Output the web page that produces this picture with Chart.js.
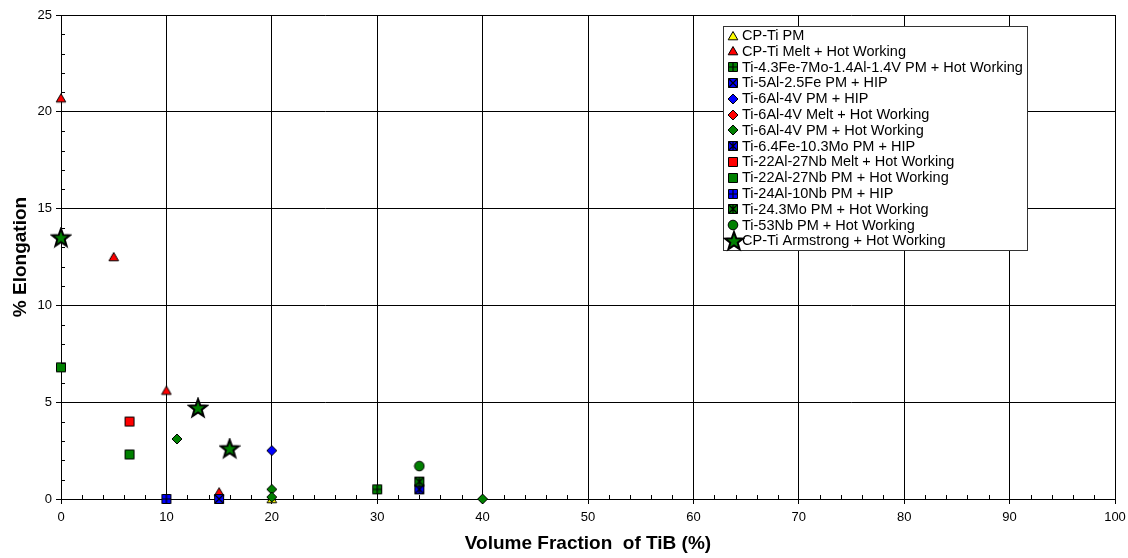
<!DOCTYPE html>
<html>
<head>
<meta charset="utf-8">
<script src="https://cdn.jsdelivr.net/npm/chart.js@4/dist/chart.umd.min.js"></script>
<style>
  html, body { margin: 0; padding: 0; background: #fff; }
  #wrap { width: 1128px; height: 558px; }
</style>
</head>
<body>
<div id="wrap"><canvas id="c" width="1128" height="558"></canvas></div>
<script>
// Elongation (%) against TiB volume fraction (%), one [x, y] list per alloy / process route
const cpTiPM            = [[20, 0]];
const cpTiMeltHW        = [[0, 20.7], [5, 12.5], [10, 5.6], [15, 0.35]];
const ti43Fe7MoPMHW     = [[30, 0.5]];
const ti5Al25FePMHIP    = [[15, 0]];
const ti6Al4VPMHIP      = [[20, 2.5]];
const ti6Al4VMeltHW     = [];
const ti6Al4VPMHW       = [[11, 3.1], [20, 0.5], [20, 0.1], [40, 0]];
const ti64Fe103MoPMHIP  = [[34, 0.5]];
const ti22Al27NbMeltHW  = [[6.5, 4.0]];
const ti22Al27NbPMHW    = [[0, 6.8], [6.5, 2.3]];
const ti24Al10NbPMHIP   = [[10, 0]];
const ti243MoPMHW       = [[34, 0.9]];
const ti53NbPMHW        = [[34, 1.7]];
const cpTiArmstrongHW   = [[0, 13.5], [13, 4.7], [16, 2.6]];

const seriesNames = [
  'CP-Ti PM',
  'CP-Ti Melt + Hot Working',
  'Ti-4.3Fe-7Mo-1.4Al-1.4V PM + Hot Working',
  'Ti-5Al-2.5Fe PM + HIP',
  'Ti-6Al-4V PM + HIP',
  'Ti-6Al-4V Melt + Hot Working',
  'Ti-6Al-4V PM + Hot Working',
  'Ti-6.4Fe-10.3Mo PM + HIP',
  'Ti-22Al-27Nb Melt + Hot Working',
  'Ti-22Al-27Nb PM + Hot Working',
  'Ti-24Al-10Nb PM + HIP',
  'Ti-24.3Mo PM + Hot Working',
  'Ti-53Nb PM + Hot Working',
  'CP-Ti Armstrong + Hot Working'
];
const seriesData = [
  cpTiPM, cpTiMeltHW, ti43Fe7MoPMHW, ti5Al25FePMHIP, ti6Al4VPMHIP, ti6Al4VMeltHW,
  ti6Al4VPMHW, ti64Fe103MoPMHIP, ti22Al27NbMeltHW, ti22Al27NbPMHW, ti24Al10NbPMHIP,
  ti243MoPMHW, ti53NbPMHW, cpTiArmstrongHW
];

const xTicks = [0, 10, 20, 30, 40, 50, 60, 70, 80, 90, 100];
const yTicks = [0, 5, 10, 15, 20, 25];

const RED = '#FF0000', GREEN = '#008000', BLUE = '#0000FF', YELLOW = '#FFFF00';
const FONT = 'Arial, "Liberation Sans", sans-serif';

// Marker glyphs: shape, fill, and an optional black overlay ('plus', 'x', 'asterisk')
const markerSpecs = [
  ['triangle', YELLOW, null],
  ['triangle', RED, null],
  ['square', GREEN, 'plus'],
  ['square', BLUE, 'x'],
  ['diamond', BLUE, null],
  ['diamond', RED, null],
  ['diamond', GREEN, null],
  ['square', BLUE, 'asterisk'],
  ['square', RED, null],
  ['square', GREEN, null],
  ['square', BLUE, 'plus'],
  ['square', GREEN, 'asterisk'],
  ['circle', GREEN, null],
  ['star', GREEN, null]
];

function makeMarker(kind, fill, overlay) {
  const s = kind === 'star' ? 22 : 12;
  const c = document.createElement('canvas');
  c.width = s; c.height = s;
  const g = c.getContext('2d');
  const m = s / 2;
  g.fillStyle = fill;
  g.strokeStyle = '#000';
  g.lineWidth = 1;
  g.beginPath();
  if (kind === 'triangle') {
    g.moveTo(m, m - 4.5); g.lineTo(m + 4.8, m + 3.8); g.lineTo(m - 4.8, m + 3.8); g.closePath();
  } else if (kind === 'square') {
    g.rect(m - 4.5, m - 4.5, 9, 9);
  } else if (kind === 'diamond') {
    g.moveTo(m, m - 5); g.lineTo(m + 5, m); g.lineTo(m, m + 5); g.lineTo(m - 5, m); g.closePath();
  } else if (kind === 'circle') {
    g.arc(m, m, 4.8, 0, Math.PI * 2);
  } else if (kind === 'star') {
    const R = 9.5, r = 3.9;
    for (let i = 0; i < 10; i++) {
      const a = -Math.PI / 2 + i * Math.PI / 5;
      const rad = i % 2 === 0 ? R : r;
      const px = m + rad * Math.cos(a), py = m + 0.5 + rad * Math.sin(a);
      if (i === 0) g.moveTo(px, py); else g.lineTo(px, py);
    }
    g.closePath();
    g.lineWidth = 2;
  }
  g.fill();
  g.stroke();
  if (overlay) {
    g.lineWidth = 1.2;
    g.beginPath();
    if (overlay === 'plus' || overlay === 'asterisk') {
      if (overlay === 'plus') { g.moveTo(m - 4.5, m); g.lineTo(m + 4.5, m); }
      g.moveTo(m, m - 4.5); g.lineTo(m, m + 4.5);
    }
    if (overlay === 'x' || overlay === 'asterisk') {
      g.moveTo(m - 4.5, m - 4.5); g.lineTo(m + 4.5, m + 4.5);
      g.moveTo(m + 4.5, m - 4.5); g.lineTo(m - 4.5, m + 4.5);
    }
    g.stroke();
  }
  return c;
}

const markers = markerSpecs.map(s => makeMarker(s[0], s[1], s[2]));

const datasets = seriesNames.map((name, i) => ({
  label: name,
  data: seriesData[i].map(p => ({ x: p[0], y: p[1] })),
  pointStyle: markers[i],
  pointRadius: 5,
  pointHoverRadius: 5,
  showLine: false,
  clip: false,
  order: seriesNames.length - i
}));

// Minor tick marks pointing into the plot area
const minorTicks = {
  id: 'minorTicks',
  afterDraw(chart) {
    const { ctx, scales: { x, y }, chartArea: a } = chart;
    ctx.save();
    ctx.strokeStyle = '#000';
    ctx.lineWidth = 1;
    ctx.beginPath();
    for (let v = 1; v < 25; v++) {
      if (v % 5 === 0) continue;
      const py = Math.round(y.getPixelForValue(v)) + 0.5;
      ctx.moveTo(a.left, py); ctx.lineTo(a.left + 4, py);
    }
    for (let v = 2; v < 100; v += 2) {
      if (v % 10 === 0) continue;
      const px = Math.round(x.getPixelForValue(v)) + 0.5;
      ctx.moveTo(px, a.bottom); ctx.lineTo(px, a.bottom - 4);
    }
    ctx.stroke();
    ctx.restore();
  }
};

// Boxed legend placed inside the plot area, top right
const boxLegend = {
  id: 'boxLegend',
  afterDraw(chart) {
    const { ctx } = chart;
    const left = 723.5, top = 26.5, w = 304, h = 224, rowH = 15.8;
    ctx.save();
    ctx.fillStyle = '#fff';
    ctx.fillRect(left, top, w, h);
    ctx.strokeStyle = '#333';
    ctx.lineWidth = 1;
    ctx.strokeRect(left, top, w, h);
    ctx.font = '14.5px ' + FONT;
    ctx.fillStyle = '#000';
    ctx.textBaseline = 'middle';
    seriesNames.forEach((name, i) => {
      const cy = top + 9 + i * rowH;
      const img = markers[i];
      const cx = markerSpecs[i][0] === 'star' ? 734 : 733;
      ctx.drawImage(img, Math.round(cx - img.width / 2), Math.round(cy - img.height / 2));
      ctx.fillText(name, 742, cy + 0.5);
    });
    ctx.restore();
  }
};

new Chart(document.getElementById('c'), {
  type: 'scatter',
  data: { datasets },
  plugins: [minorTicks, boxLegend],
  options: {
    responsive: false,
    animation: false,
    events: [],
    layout: { padding: { top: 15, right: 13, left: 0, bottom: 0 } },
    plugins: { legend: { display: false }, tooltip: { enabled: false } },
    scales: {
      x: {
        type: 'linear', min: 0, max: 100,
        afterBuildTicks: s => { s.ticks = xTicks.map(v => ({ value: v })); },
        afterFit: s => { s.height = 59; s.paddingLeft = 0; s.paddingRight = 0; },
        ticks: { color: '#000', font: { family: FONT, size: 13 }, padding: 6, maxRotation: 0, autoSkip: false },
        grid: { color: '#000', lineWidth: 1, tickLength: 5, drawTicks: true },
        border: { display: true, color: '#000', width: 1 },
        title: { display: true, text: 'Volume Fraction  of TiB (%)', color: '#000',
                 font: { family: FONT, size: 19, weight: 'bold' },
                 padding: { top: 0, bottom: 3 } }
      },
      y: {
        type: 'linear', min: 0, max: 25,
        afterBuildTicks: s => { s.ticks = yTicks.map(v => ({ value: v })); },
        afterFit: s => { s.width = 61; s.paddingTop = 0; s.paddingBottom = 0; },
        ticks: { color: '#000', font: { family: FONT, size: 13 }, padding: 4, autoSkip: false },
        grid: { color: '#000', lineWidth: 1, tickLength: 5, drawTicks: true },
        border: { display: true, color: '#000', width: 1 },
        title: { display: true, text: '% Elongation', color: '#000',
                 font: { family: FONT, size: 19, weight: 'bold' },
                 padding: { top: 9, bottom: 0 } }
      }
    }
  }
});
</script>
</body>
</html>
